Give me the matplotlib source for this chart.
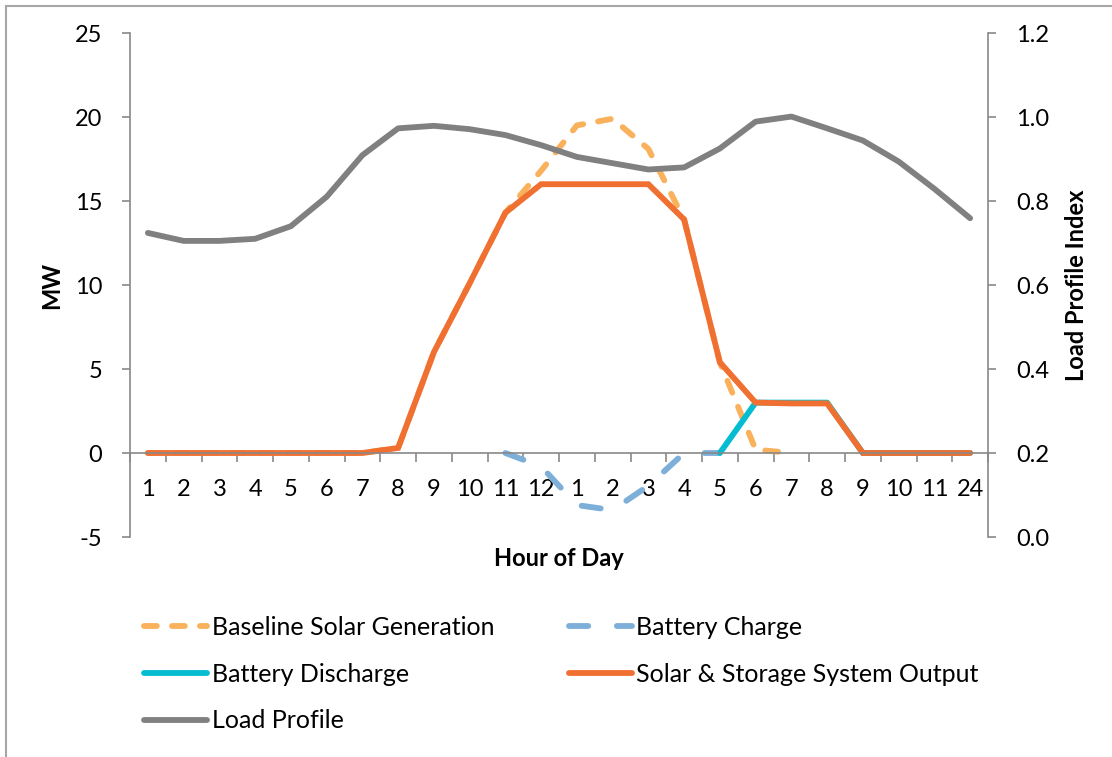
import matplotlib
matplotlib.use("Agg")
import matplotlib.pyplot as plt
import numpy as np
from matplotlib.lines import Line2D

plt.rcParams['font.family'] = ['Lato', 'DejaVu Sans']
plt.rcParams['axes.unicode_minus'] = False

nan = np.nan

# hour labels along the x axis
hours = ['1', '2', '3', '4', '5', '6', '7', '8', '9', '10', '11', '12',
         '1', '2', '3', '4', '5', '6', '7', '8', '9', '10', '11', '24']

# MW series (left axis)
baseline_solar = [0, 0, 0, 0, 0, 0, 0, 0.3, 6.0, 10.1, 14.3, 16.8, 19.5, 19.9,
                  18.1, 13.9, 5.4, 0.2, 0.0, nan, nan, nan, nan, nan]
battery_charge = [nan, nan, nan, nan, nan, nan, nan, nan, nan, nan, 0, -0.8,
                  -3.1, -3.4, -1.95, 0, 0, nan, nan, nan, nan, nan, nan, nan]
battery_discharge = [nan, nan, nan, nan, nan, nan, nan, nan, nan, nan, nan, nan,
                     nan, nan, nan, nan, 0, 3.0, 3.0, 3.0, 0, 0, 0, 0]
system_output = [0, 0, 0, 0, 0, 0, 0, 0.3, 6.0, 10.1, 14.3, 16.0, 16.0, 16.0,
                 16.0, 13.9, 5.4, 3.0, 2.95, 2.95, 0, 0, 0, 0]

# load profile index (right axis)
load_profile = [0.724, 0.705, 0.705, 0.710, 0.740, 0.810, 0.909, 0.973, 0.979,
                0.971, 0.957, 0.933, 0.905, 0.890, 0.875, 0.880, 0.925, 0.989,
                1.001, 0.973, 0.944, 0.894, 0.829, 0.759]

c_base = '#F9B15B'
c_charge = '#7DAFD8'
c_dis = '#06BCD0'
c_out = '#F07032'
c_load = '#808080'
c_axis = '#898989'
lw = 4.2
fs = 17

fig = plt.figure(figsize=(11.12, 7.57), dpi=100)
ax = fig.add_axes([130 / 1112, 1 - 537 / 757, 858 / 1112, 504 / 757])
x = np.arange(len(hours))

l1, = ax.plot(x, baseline_solar, color=c_base, lw=lw, dashes=(2.2, 2.6),
              dash_capstyle='round', label='Baseline Solar Generation')
l2, = ax.plot(x, battery_charge, color=c_charge, lw=lw, dashes=(3.3, 4.9),
              dash_capstyle='round', label='Battery Charge')
l3, = ax.plot(x, battery_discharge, color=c_dis, lw=lw, solid_capstyle='round',
              label='Battery Discharge')
l4, = ax.plot(x, system_output, color=c_out, lw=lw, solid_capstyle='round',
              solid_joinstyle='miter', label='Solar & Storage System Output')

ax2 = ax.twinx()
l5, = ax2.plot(x, load_profile, color=c_load, lw=lw, solid_capstyle='round',
               label='Load Profile')

ax.set_xlim(-0.5, 23.5)
ax.set_ylim(-5, 25)
ax.set_yticks(np.arange(-5, 26, 5))
ax2.set_ylim(0, 1.2)
ax2.set_yticks(np.arange(0, 1.21, 0.2))
ax2.set_yticklabels([f'{v:.1f}' for v in np.arange(0, 1.21, 0.2)])

for s in ['top', 'right']:
    ax.spines[s].set_visible(False)
for s in ['top', 'left', 'bottom']:
    ax2.spines[s].set_visible(False)
ax.spines['bottom'].set_position(('data', 0))
for sp in [ax.spines['left'], ax.spines['bottom'], ax2.spines['right']]:
    sp.set_color(c_axis)
    sp.set_linewidth(1.2)

ax.set_xticks(x)
ax.set_xticklabels(hours)
ax.set_xticks(np.arange(-0.5, 24, 1), minor=True)
ax.tick_params(axis='x', which='major', length=0, pad=19, labelsize=fs)
ax.tick_params(axis='x', which='minor', length=6.5, width=1.2, color=c_axis,
               direction='out')
ax.tick_params(axis='y', length=6, width=1.2, color=c_axis, pad=14, labelsize=fs)
ax2.tick_params(axis='y', length=6, width=1.2, color=c_axis, pad=14, labelsize=fs)

fig.text(52 / 1112, 1 - 285 / 757, 'MW', rotation=90, ha='center', va='center',
         fontsize=fs, fontweight='bold')
fig.text(1077 / 1112, 1 - 285 / 757, 'Load Profile Index', rotation=90,
         ha='center', va='center', fontsize=fs, fontweight='bold')
fig.text(559 / 1112, 1 - 558 / 757, 'Hour of Day', ha='center', va='center',
         fontsize=fs, fontweight='bold')

# legend: row-major order like the original -> reorder for column filling
handles = [l1, l3, l5, l2, l4]
fig.legend(handles, [h.get_label() for h in handles], ncol=2, frameon=False,
           loc='upper left', bbox_to_anchor=(144 / 1112, 1 - 616 / 757),
           borderpad=0, borderaxespad=0, fontsize=18, handlelength=2.5,
           handletextpad=0.2, columnspacing=3.0, labelspacing=0.95)

# chart-area border (top and left edges)
fig.add_artist(Line2D([6 / 1112, 6 / 1112], [0, 1 - 6 / 757],
                      transform=fig.transFigure, color='#A6A6A6', lw=1.5))
fig.add_artist(Line2D([6 / 1112, 1], [1 - 6 / 757, 1 - 6 / 757],
                      transform=fig.transFigure, color='#A6A6A6', lw=1.5))

fig.savefig('out.png', dpi=100)
